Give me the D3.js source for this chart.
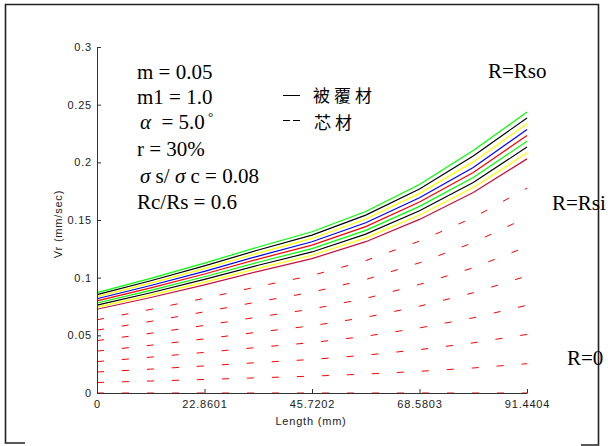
<!DOCTYPE html>
<html>
<head>
<meta charset="utf-8">
<script src="https://cdn.jsdelivr.net/npm/d3@7"></script>
<style>
  body { margin: 0; background: #fff; }
  svg { display: block; }
  .axis path, .axis line { stroke: #333; }
  .axis text { font-family: "Liberation Sans", Arial, sans-serif; font-size: 11px; letter-spacing: 0.8px; fill: #222; }
  .note { font-family: "Liberation Serif", "Times New Roman", serif; font-size: 21px; fill: #000; white-space: pre; }
  .cjk { font-family: "Noto Sans CJK TC", "Noto Sans CJK SC", sans-serif; font-size: 17px; letter-spacing: 4px; fill: #000; }
</style>
</head>
<body>
<div id="chart"></div>
<script>
// length along die (mm)
const lengthMm = [0, 11.4301, 22.8601, 34.2902, 45.7202, 57.1503, 68.5803, 80.0104, 91.4404];
const xTicks = [0, 22.8601, 45.7202, 68.5803, 91.4404];
const yTicks = [0, 0.05, 0.1, 0.15, 0.2, 0.25, 0.3];

// 被覆材 (sleeve), from R=Rsi (bottom) up to R=Rso (top)
const sleeveColors = ["#c41040", "#ffff00", "#000000", "#00ff00", "#ff0000", "#0000ff", "#ffff00", "#000000", "#00ff00"];
const sleeve0 = [0.0726, 0.0828, 0.0938, 0.1055, 0.1165, 0.1312, 0.1505, 0.1738, 0.2030];
const sleeve1 = [0.0744, 0.0849, 0.0961, 0.1081, 0.1194, 0.1345, 0.1543, 0.1781, 0.2081];
const sleeve2 = [0.0762, 0.0869, 0.0985, 0.1108, 0.1223, 0.1378, 0.1580, 0.1825, 0.2132];
const sleeve3 = [0.0780, 0.0890, 0.1008, 0.1134, 0.1252, 0.1410, 0.1618, 0.1868, 0.2182];
const sleeve4 = [0.0799, 0.0911, 0.1032, 0.1161, 0.1282, 0.1443, 0.1656, 0.1912, 0.2233];
const sleeve5 = [0.0817, 0.0932, 0.1055, 0.1187, 0.1311, 0.1476, 0.1693, 0.1955, 0.2284];
const sleeve6 = [0.0835, 0.0952, 0.1079, 0.1213, 0.1340, 0.1509, 0.1731, 0.2004, 0.2335];
const sleeve7 = [0.0853, 0.0973, 0.1102, 0.1240, 0.1369, 0.1542, 0.1768, 0.2055, 0.2385];
const sleeve8 = [0.0871, 0.0994, 0.1126, 0.1266, 0.1398, 0.1574, 0.1808, 0.2102, 0.2436];

// 芯材 (core), from R=0 up towards R=Rsi
const core0 = [0, 0, 0, 0, 0, 0, 0, 0, 0];
const core1 = [0.0091, 0.0104, 0.0117, 0.0132, 0.0146, 0.0164, 0.0188, 0.0217, 0.0254];
const core2 = [0.0182, 0.0207, 0.0235, 0.0264, 0.0291, 0.0328, 0.0376, 0.0435, 0.0508];
const core3 = [0.0272, 0.0311, 0.0352, 0.0396, 0.0437, 0.0492, 0.0564, 0.0652, 0.0761];
const core4 = [0.0363, 0.0414, 0.0469, 0.0528, 0.0583, 0.0656, 0.0753, 0.0869, 0.1015];
const core5 = [0.0454, 0.0518, 0.0586, 0.0659, 0.0728, 0.0820, 0.0941, 0.1086, 0.1269];
const core6 = [0.0545, 0.0621, 0.0704, 0.0791, 0.0874, 0.0984, 0.1129, 0.1304, 0.1523];
const core7 = [0.0635, 0.0725, 0.0821, 0.0923, 0.1019, 0.1148, 0.1317, 0.1521, 0.1776];

const sleeve = [sleeve0, sleeve1, sleeve2, sleeve3, sleeve4, sleeve5, sleeve6, sleeve7, sleeve8];
const core = [core0, core1, core2, core3, core4, core5, core6, core7];

const notes = ["m = 0.05", "m1 = 1.0", null, "r = 30%", null, "Rc/Rs = 0.6"];

let W = 608, H = 446;
let svg = d3.select("#chart").append("svg")
    .attr("width", W)
    .attr("height", H);

svg.append("rect").attr("width", W).attr("height", H).attr("fill", "#fff");

// outer frame (open at the bottom)
let frame = svg.append("g").attr("fill", "none").attr("stroke", "#222").attr("stroke-width", 1.6);
frame.append("path").attr("d", "M25,443 H5.5 V4.5 H598.5 V445 H581");

let x = d3.scaleLinear().domain([0, 91.4404]).range([97, 527]),
    y = d3.scaleLinear().domain([0, 0.3]).range([393, 47]);

let line = d3.line()
    .x(function(d, i) { return x(lengthMm[i]); })
    .y(function(d) { return y(d); });

// core, dashed red
svg.append("g").selectAll("path")
    .data(core)
    .enter().append("path")
    .attr("d", line)
    .attr("fill", "none")
    .attr("stroke", "#ff0000")
    .attr("stroke-width", 1)
    .attr("stroke-dasharray", "7,18");

// sleeve, solid
svg.append("g").selectAll("path")
    .data(sleeve)
    .enter().append("path")
    .attr("d", line)
    .attr("fill", "none")
    .attr("stroke", function(d, i) { return sleeveColors[i]; })
    .attr("stroke-width", 1.2);

svg.append("g")
    .attr("class", "axis axis--x")
    .attr("transform", "translate(0," + y(0) + ")")
    .call(d3.axisBottom(x).tickValues(xTicks).tickSizeInner(-4).tickSizeOuter(0).tickPadding(7)
        .tickFormat(function(d) { return String(d); }));

svg.append("g")
    .attr("class", "axis axis--y")
    .attr("transform", "translate(" + x(0) + ",0)")
    .call(d3.axisLeft(y).tickValues(yTicks).tickSizeInner(-4).tickSizeOuter(0).tickPadding(5)
        .tickFormat(function(d) { return String(+d.toFixed(2)); }));

svg.append("text")
    .attr("x", 311).attr("y", 425)
    .attr("text-anchor", "middle")
    .style("font-family", "Liberation Sans, Arial, sans-serif")
    .style("font-size", "11px").style("letter-spacing", "0.8px").attr("fill", "#222")
    .text("Length (mm)");

svg.append("text")
    .attr("transform", "translate(62,224) rotate(-90)")
    .attr("text-anchor", "middle")
    .style("font-family", "Liberation Sans, Arial, sans-serif")
    .style("font-size", "11px").style("letter-spacing", "0.8px").attr("fill", "#222")
    .text("Vr (mm/sec)");

// parameter notes
let noteY = [79, 104, 129, 156, 183, 209];
notes.forEach(function(t, i) {
    if (t) svg.append("text").attr("class", "note").attr("x", 137).attr("y", noteY[i]).text(t);
});
let alpha = svg.append("text").attr("class", "note").attr("x", 140).attr("y", noteY[2]);
alpha.append("tspan").style("font-style", "italic").text("α");
alpha.append("tspan").text("  = 5.0");
alpha.append("tspan").style("font-size", "13px").attr("dx", 3).attr("dy", -8).text("°");

let sig = svg.append("text").attr("class", "note").attr("x", 140).attr("y", noteY[4]);
sig.append("tspan").style("font-style", "italic").text("σ");
sig.append("tspan").text(" s/ ");
sig.append("tspan").style("font-style", "italic").text("σ");
sig.append("tspan").text(" c = 0.08");

// legend
let lg = svg.append("g");
lg.append("line").attr("x1", 283).attr("x2", 300).attr("y1", 95.5).attr("y2", 95.5)
    .attr("stroke", "#000").attr("stroke-width", 1);
lg.append("line").attr("x1", 283).attr("x2", 300).attr("y1", 120.5).attr("y2", 120.5)
    .attr("stroke", "#000").attr("stroke-width", 1).attr("stroke-dasharray", "7,3");
lg.append("text").attr("class", "cjk").attr("x", 313).attr("y", 102).text("被覆材");
lg.append("text").attr("class", "cjk").attr("x", 314).attr("y", 129).text("芯材");

// radius labels
svg.append("text").attr("class", "note").attr("x", 488).attr("y", 78).text("R=Rso");
svg.append("text").attr("class", "note").attr("x", 552).attr("y", 210).text("R=Rsi");
svg.append("text").attr("class", "note").attr("x", 567).attr("y", 365).text("R=0");
</script>
</body>
</html>
